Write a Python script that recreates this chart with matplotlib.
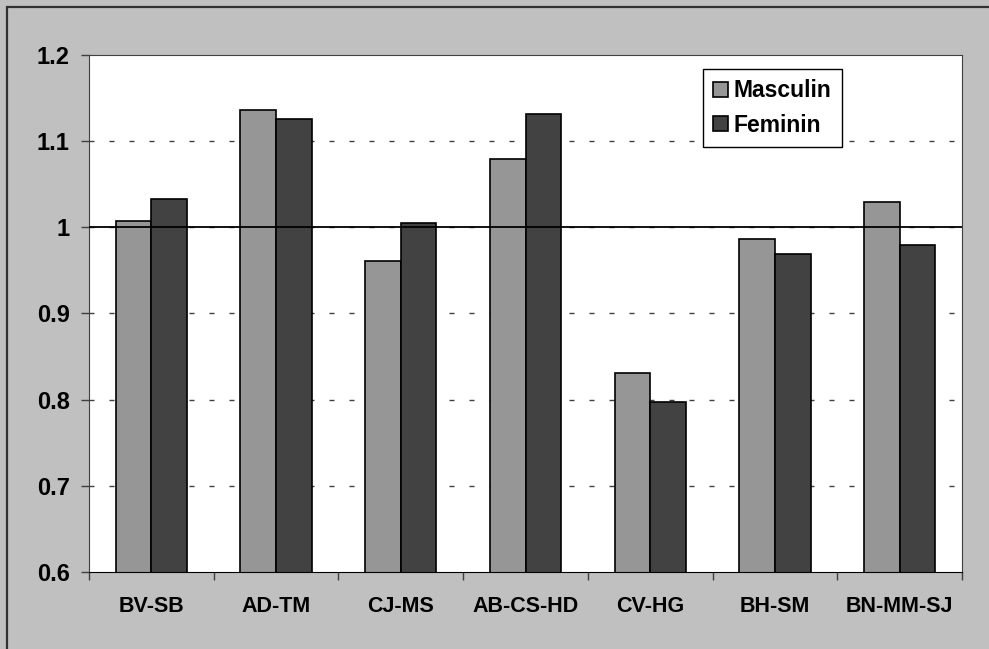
#!/usr/bin/env python
# coding: utf-8

import matplotlib

matplotlib.use("Agg")
import matplotlib.pyplot as plt
import numpy as np
from matplotlib.patches import Rectangle

# Data
categories = ["BV-SB", "AD-TM", "CJ-MS", "AB-CS-HD", "CV-HG", "BH-SM", "BN-MM-SJ"]
masculin = [1.007, 1.136, 0.961, 1.079, 0.831, 0.986, 1.029]
feminin = [1.033, 1.126, 1.005, 1.132, 0.797, 0.969, 0.980]
y_ticks = [0.6, 0.7, 0.8, 0.9, 1.0, 1.1, 1.2]
y_tick_labels = ["0.6", "0.7", "0.8", "0.9", "1", "1.1", "1.2"]
reference_level = 1.0

# Style
FONT_FAMILY = "Liberation Sans"
BG_GRAY = "#c0c0c0"
COLOR_M = "#969696"
COLOR_F = "#424242"
BAR_WIDTH = 1 / 3.5

plt.rcParams["font.family"] = FONT_FAMILY
plt.rcParams["font.weight"] = "bold"
plt.rcParams["font.size"] = 15

W, H = 989, 649
fig = plt.figure(figsize=(W / 100, H / 100), dpi=100, facecolor=BG_GRAY)

# outer chart frame (only left/top edges visible in the crop)
fig.patches.append(
    Rectangle((7 / W, -0.1), 1.2, (H - 7) / H + 0.1, transform=fig.transFigure,
              fill=False, edgecolor="#303030", linewidth=1.6, zorder=0)
)

left, right, top, bottom = 89, 962, 55, 572
ax = fig.add_axes([left / W, 1 - bottom / H, (right - left) / W, (bottom - top) / H])
ax.set_facecolor("white")

x = np.arange(len(categories))
ax.bar(x - BAR_WIDTH / 2, masculin, BAR_WIDTH, bottom=0, color=COLOR_M,
       edgecolor="black", linewidth=1.2, label="Masculin", zorder=2)
ax.bar(x + BAR_WIDTH / 2, feminin, BAR_WIDTH, bottom=0, color=COLOR_F,
       edgecolor="black", linewidth=1.2, label="Feminin", zorder=2)

# dashed gridlines
for y in y_ticks[1:-1]:
    ax.axhline(y, color="#404040", linewidth=1, linestyle=(0, (3.6, 10.8)), zorder=1)
ax.axhline(reference_level, color="black", linewidth=1.3, zorder=3)

ax.set_xlim(-0.5, len(categories) - 0.5)
ax.set_ylim(y_ticks[0], y_ticks[-1])

ax.set_yticks(y_ticks)
ax.set_yticklabels(y_tick_labels)
ax.tick_params(axis="y", direction="out", length=6, width=1, color="#404040", pad=8,
               labelsize=17)

ax.set_xticks(x)
ax.set_xticklabels(categories)
ax.set_xticks(np.arange(len(categories) + 1) - 0.5, minor=True)
ax.tick_params(axis="x", which="major", length=0, pad=17, labelsize=15.5)
ax.tick_params(axis="x", which="minor", direction="out", length=6, width=1, color="#404040")

for lbl in ax.get_xticklabels() + ax.get_yticklabels():
    lbl.set_fontweight("bold")

for side in ["top", "right"]:
    ax.spines[side].set_color("#404040")
    ax.spines[side].set_linewidth(0.8)
ax.spines["left"].set_color("#404040")
ax.spines["bottom"].set_color("black")

leg = ax.legend(loc="upper left", bbox_to_anchor=((703 - left) / (right - left), 1 - (69 - top) / (bottom - top)),
                frameon=True, fancybox=False, edgecolor="black", framealpha=1,
                prop={"family": FONT_FAMILY, "weight": "bold", "size": 16.5},
                handlelength=0.65, handleheight=0.65, handletextpad=0.25,
                labelspacing=0.5, borderpad=0.45, borderaxespad=0)
leg.get_frame().set_linewidth(1)
leg.set_zorder(5)

fig.savefig("out.png", dpi=100, facecolor=BG_GRAY)
